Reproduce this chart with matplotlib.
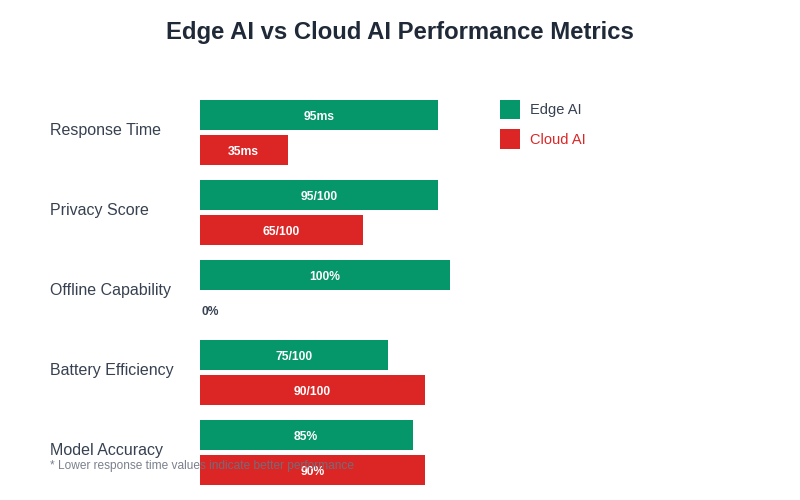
import numpy as np
import matplotlib
matplotlib.use("Agg")
import matplotlib.pyplot as plt
from matplotlib.transforms import blended_transform_factory

plt.rcParams["font.family"] = ["Liberation Sans", "DejaVu Sans"]

categories = ["Response Time", "Privacy Score", "Offline Capability",
              "Battery Efficiency", "Model Accuracy"]
edge_values = [95, 95, 100, 75, 85]
cloud_values = [35, 65, 0, 90, 90]
edge_labels = ["95ms", "95/100", "100%", "75/100", "85%"]
cloud_labels = ["35ms", "65/100", "0%", "90/100", "90%"]

EDGE_COLOR = "#059669"
CLOUD_COLOR = "#DC2626"
TEXT_COLOR = "#374151"

W, H = 800, 500
fig = plt.figure(figsize=(8, 5), dpi=100)
fig.patch.set_facecolor("white")

# bar area: x 200..450 px for 0..100, groups of 80 px starting at y=92.5
ax = fig.add_axes([200 / W, 1 - 492.5 / H, 250 / W, 400 / H])
ax.set_xlim(0, 100)
ax.set_ylim(4.5, -0.5)
ax.axis("off")

y = np.arange(len(categories))
off = 17.5 / 80
h = 30 / 80
edge_bars = ax.barh(y - off, edge_values, height=h, color=EDGE_COLOR, label="Edge AI", zorder=2)
cloud_bars = ax.barh(y + off, cloud_values, height=h, color=CLOUD_COLOR, label="Cloud AI", zorder=2)

for bars, labels in [(edge_bars, edge_labels), (cloud_bars, cloud_labels)]:
    for b, lab in zip(bars, labels):
        w = b.get_width()
        yc = b.get_y() + b.get_height() / 2 + 0.01
        if w > 0:
            ax.text(w / 2, yc, lab, ha="center", va="center_baseline", color="white",
                    fontsize=8.7, fontweight="bold", zorder=5)
        else:
            ax.text(0.4, yc, lab, ha="left", va="center_baseline", color=TEXT_COLOR,
                    fontsize=8.7, fontweight="bold", zorder=5)

trans = blended_transform_factory(fig.transFigure, ax.transData)
for i, cat in enumerate(categories):
    ax.text(50 / W, i - 0.03, cat, transform=trans, ha="left", va="center",
            color=TEXT_COLOR, fontsize=11.5, clip_on=False)

fig.text(0.5, 1 - 32 / H, "Edge AI vs Cloud AI Performance Metrics", ha="center",
         va="center", fontsize=17.2, fontweight="bold", color="#1f2937")

fig.text(50 / W, 1 - 466 / H, "* Lower response time values indicate better performance",
         ha="left", va="center", fontsize=8.6, color="#6b7280", alpha=0.9, zorder=4)

leg = fig.legend(handles=[edge_bars, cloud_bars], loc="upper left",
                 bbox_to_anchor=(500 / W, 1 - 100 / H), frameon=False,
                 fontsize=10.5, handlelength=1.37, handleheight=1.68,
                 handletextpad=0.68, labelspacing=0.68, borderpad=0, borderaxespad=0)
leg.get_texts()[0].set_color(TEXT_COLOR)
leg.get_texts()[1].set_color(CLOUD_COLOR)

fig.savefig("out.png", dpi=100)
